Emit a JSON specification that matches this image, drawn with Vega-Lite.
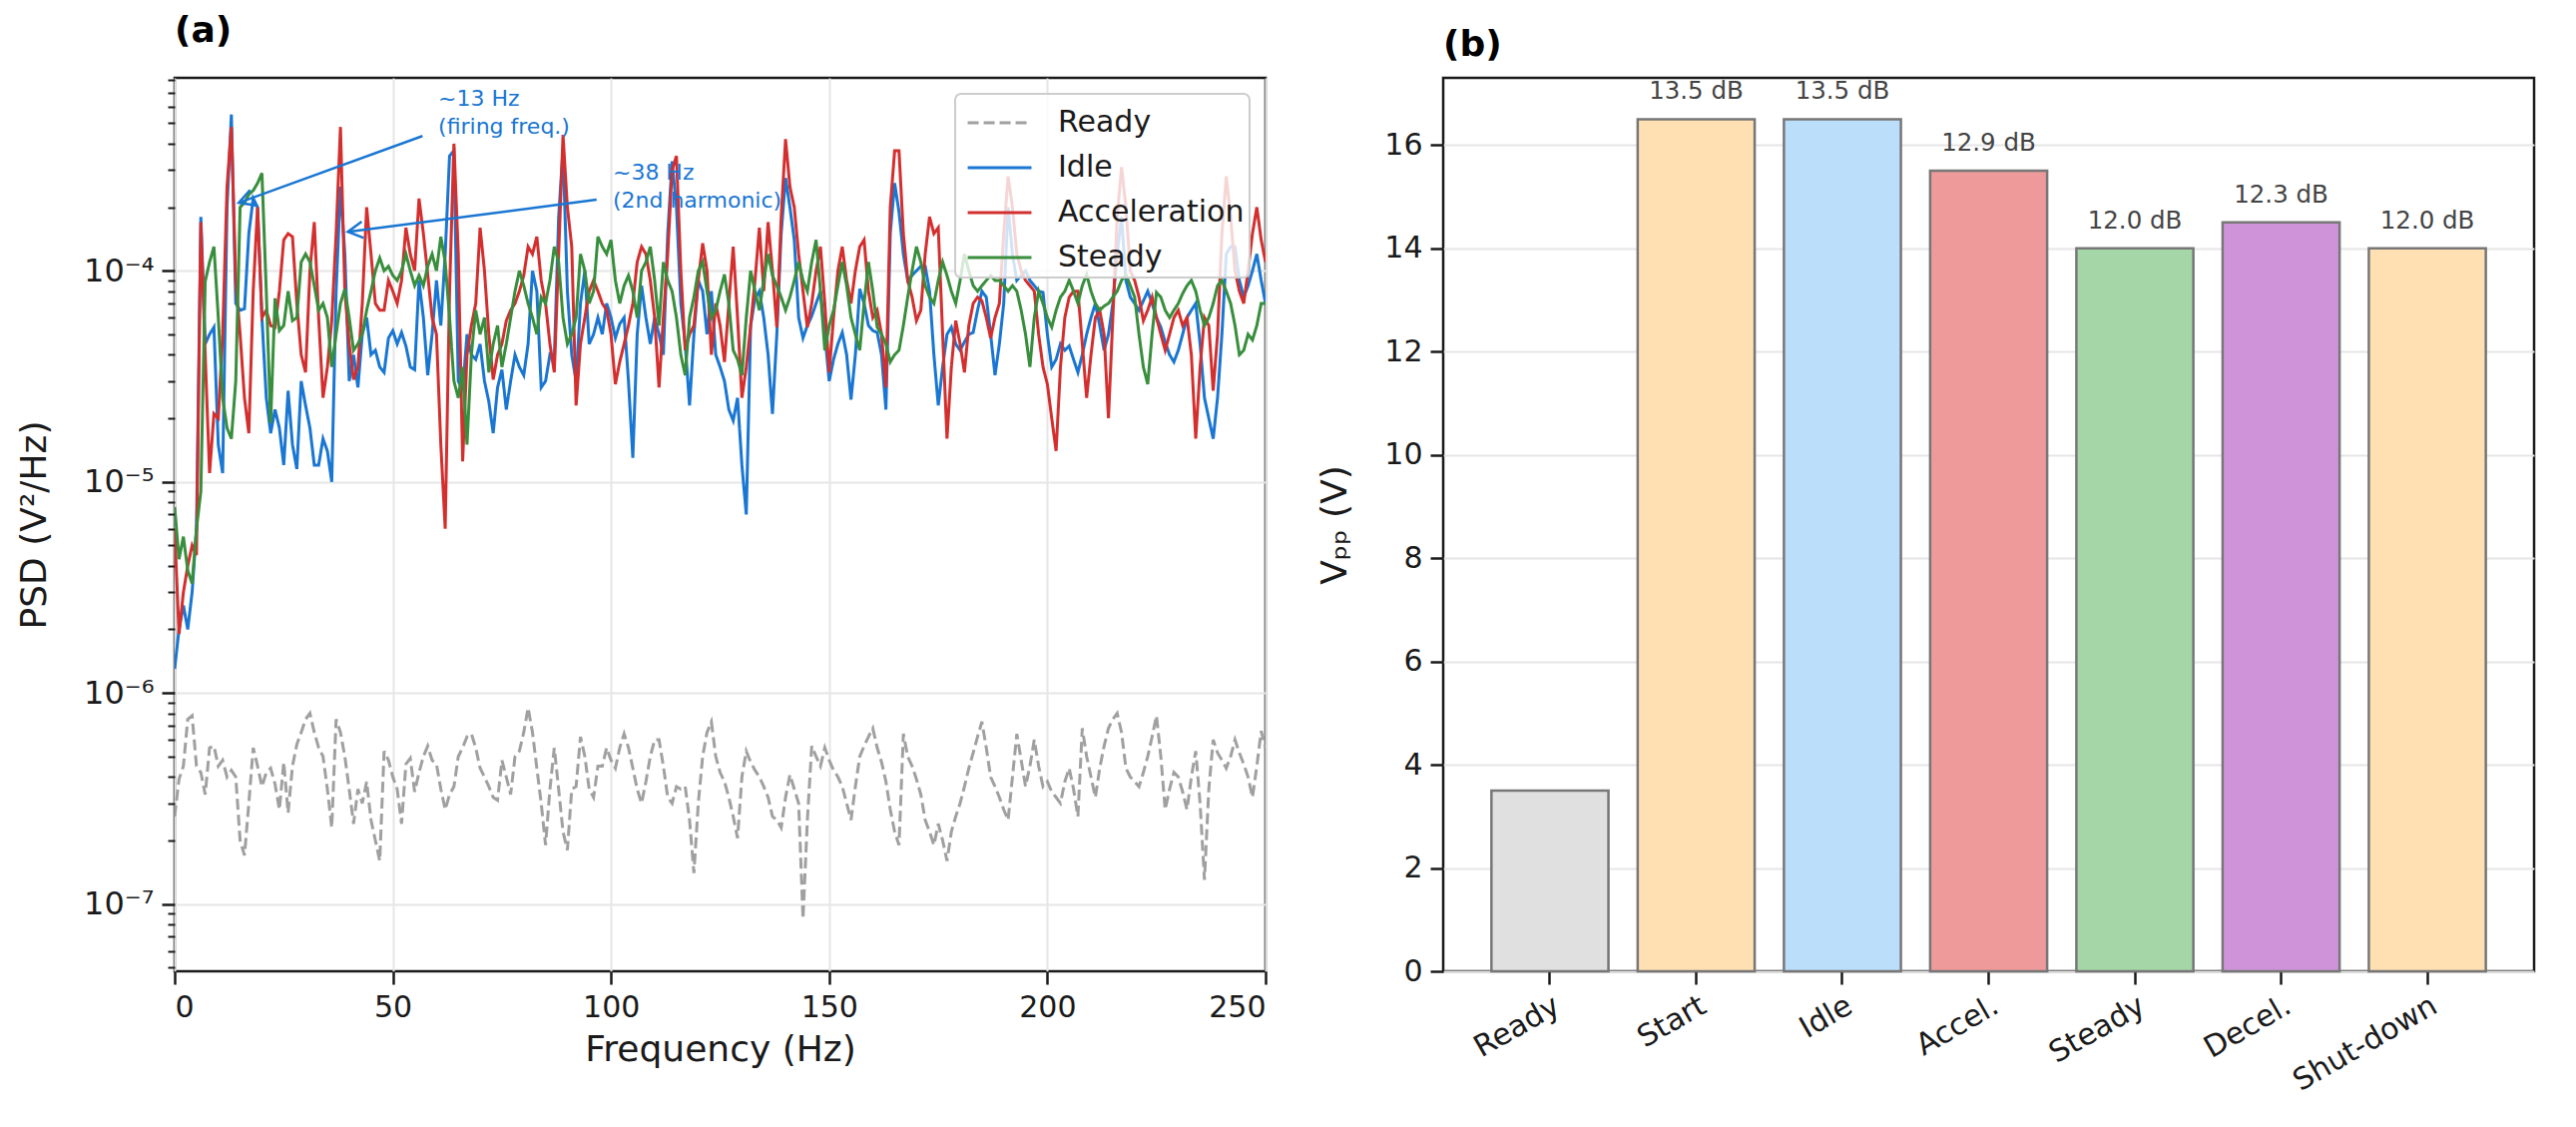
{
"$schema": "https://vega.github.io/schema/vega-lite/v6.json",
"padding": {"left": 15, "top": 12, "right": 5, "bottom": 5},
"spacing": 47,
"resolve": {"scale": {"color": "independent", "strokeDash": "independent"}, "legend": {"color": "independent", "strokeDash": "independent"}},
"config": {
  "font": "DejaVu Sans",
  "view": {"stroke": "#1a1a1a", "strokeWidth": 2.5},
  "axis": {"labelFont": "DejaVu Sans", "titleFont": "DejaVu Sans", "labelFontSize": 30, "titleFontSize": 36, "titleFontWeight": "normal", "labelColor": "#1a1a1a", "titleColor": "#1a1a1a", "tickColor": "#1a1a1a", "tickWidth": 2.5, "tickSize": 13, "domain": false, "gridColor": "#e6e6e6", "gridWidth": 2, "labelPadding": 8, "labelOverlap": false, "labelBound": false},
  "title": {"font": "DejaVu Sans", "fontSize": 36, "fontWeight": "bold", "anchor": "start", "frame": "group", "color": "#000000", "offset": 14},
  "legend": {"orient": "top-right", "offset": 16, "padding": 5, "rowPadding": 6, "labelFont": "DejaVu Sans", "labelFontSize": 30, "labelLimit": 400, "labelColor": "#1a1a1a", "labelOffset": 50, "symbolType": "M-0.73,0H2.11", "symbolSize": 2025, "symbolStrokeWidth": 3, "fillColor": "rgba(255,255,255,0.8)", "strokeColor": "#cccccc", "strokeWidth": 2, "cornerRadius": 6}
},
"datasets": {
"psd": [
{"f":0,"Ready":2.6e-7,"Idle":0.13e-5,"Acceleration":0.6e-5,"Steady":0.76e-5},
{"f":1,"Ready":3.9e-7,"Idle":0.2e-5,"Acceleration":0.19e-5,"Steady":0.43e-5},
{"f":2,"Ready":4.5e-7,"Idle":0.26e-5,"Acceleration":0.3e-5,"Steady":0.55e-5},
{"f":3,"Ready":7.5e-7,"Idle":0.2e-5,"Acceleration":0.4e-5,"Steady":0.38e-5},
{"f":4,"Ready":7.8e-7,"Idle":0.3e-5,"Acceleration":0.5e-5,"Steady":0.33e-5},
{"f":5,"Ready":4.5e-7,"Idle":0.6e-5,"Acceleration":0.45e-5,"Steady":0.6e-5},
{"f":6,"Ready":4.2e-7,"Idle":18e-5,"Acceleration":17e-5,"Steady":0.9e-5},
{"f":7,"Ready":3.3e-7,"Idle":4.5e-5,"Acceleration":4e-5,"Steady":8.9e-5},
{"f":8,"Ready":5.5e-7,"Idle":5.0e-5,"Acceleration":1.1e-5,"Steady":11e-5},
{"f":9,"Ready":5.6e-7,"Idle":5.4e-5,"Acceleration":2.1e-5,"Steady":13e-5},
{"f":10,"Ready":4.5e-7,"Idle":1.5e-5,"Acceleration":2.0e-5,"Steady":6e-5},
{"f":11,"Ready":4.8e-7,"Idle":1.1e-5,"Acceleration":5e-5,"Steady":2.5e-5},
{"f":12,"Ready":4.0e-7,"Idle":20e-5,"Acceleration":25e-5,"Steady":1.8e-5},
{"f":13,"Ready":4.3e-7,"Idle":55e-5,"Acceleration":48e-5,"Steady":1.6e-5},
{"f":14,"Ready":4.0e-7,"Idle":7e-5,"Acceleration":9e-5,"Steady":3e-5},
{"f":15,"Ready":2.0e-7,"Idle":6.5e-5,"Acceleration":5e-5,"Steady":20e-5},
{"f":16,"Ready":1.7e-7,"Idle":6.6e-5,"Acceleration":2.5e-5,"Steady":21e-5},
{"f":17,"Ready":3.0e-7,"Idle":15e-5,"Acceleration":1.7e-5,"Steady":23e-5},
{"f":18,"Ready":5.5e-7,"Idle":22e-5,"Acceleration":8e-5,"Steady":24e-5},
{"f":19,"Ready":4.5e-7,"Idle":20e-5,"Acceleration":20e-5,"Steady":26e-5},
{"f":20,"Ready":3.6e-7,"Idle":6e-5,"Acceleration":6e-5,"Steady":29e-5},
{"f":21,"Ready":4.2e-7,"Idle":2.5e-5,"Acceleration":6.5e-5,"Steady":8e-5},
{"f":22,"Ready":4.4e-7,"Idle":1.7e-5,"Acceleration":5.5e-5,"Steady":1.9e-5},
{"f":23,"Ready":3.7e-7,"Idle":2.2e-5,"Acceleration":5.4e-5,"Steady":7.4e-5},
{"f":24,"Ready":2.8e-7,"Idle":1.8e-5,"Acceleration":8e-5,"Steady":5.2e-5},
{"f":25,"Ready":4.7e-7,"Idle":1.2e-5,"Acceleration":14e-5,"Steady":5.5e-5},
{"f":26,"Ready":2.7e-7,"Idle":2.7e-5,"Acceleration":15e-5,"Steady":8e-5},
{"f":27,"Ready":4.5e-7,"Idle":1.5e-5,"Acceleration":14.5e-5,"Steady":5.8e-5},
{"f":28,"Ready":5.7e-7,"Idle":1.15e-5,"Acceleration":7e-5,"Steady":6e-5},
{"f":29,"Ready":6.5e-7,"Idle":3e-5,"Acceleration":4e-5,"Steady":11e-5},
{"f":30,"Ready":7.5e-7,"Idle":2.3e-5,"Acceleration":3.3e-5,"Steady":12e-5},
{"f":31,"Ready":8.0e-7,"Idle":1.8e-5,"Acceleration":10e-5,"Steady":11e-5},
{"f":32,"Ready":6.5e-7,"Idle":1.2e-5,"Acceleration":17e-5,"Steady":8.5e-5},
{"f":33,"Ready":5.5e-7,"Idle":1.2e-5,"Acceleration":6e-5,"Steady":6.5e-5},
{"f":34,"Ready":5.0e-7,"Idle":1.6e-5,"Acceleration":2.5e-5,"Steady":7e-5},
{"f":35,"Ready":3.5e-7,"Idle":1.4e-5,"Acceleration":3.5e-5,"Steady":6e-5},
{"f":36,"Ready":2.3e-7,"Idle":1.0e-5,"Acceleration":5.8e-5,"Steady":3.5e-5},
{"f":37,"Ready":7.5e-7,"Idle":8e-5,"Acceleration":15e-5,"Steady":5e-5},
{"f":38,"Ready":6.5e-7,"Idle":25e-5,"Acceleration":48e-5,"Steady":7e-5},
{"f":39,"Ready":5.0e-7,"Idle":12e-5,"Acceleration":8e-5,"Steady":8.2e-5},
{"f":40,"Ready":3.5e-7,"Idle":3e-5,"Acceleration":4.5e-5,"Steady":6e-5},
{"f":41,"Ready":2.4e-7,"Idle":4e-5,"Acceleration":3.05e-5,"Steady":4.2e-5},
{"f":42,"Ready":3.5e-7,"Idle":2.8e-5,"Acceleration":3.5e-5,"Steady":4.5e-5},
{"f":43,"Ready":3.0e-7,"Idle":5e-5,"Acceleration":7e-5,"Steady":5e-5},
{"f":44,"Ready":3.8e-7,"Idle":6e-5,"Acceleration":20e-5,"Steady":6.5e-5},
{"f":45,"Ready":2.5e-7,"Idle":4e-5,"Acceleration":12e-5,"Steady":8e-5},
{"f":46,"Ready":2.0e-7,"Idle":4.2e-5,"Acceleration":7e-5,"Steady":10e-5},
{"f":47,"Ready":1.6e-7,"Idle":3.5e-5,"Acceleration":6.5e-5,"Steady":11.5e-5},
{"f":48,"Ready":5.3e-7,"Idle":3.3e-5,"Acceleration":6.5e-5,"Steady":10e-5},
{"f":49,"Ready":4.8e-7,"Idle":4.8e-5,"Acceleration":9e-5,"Steady":10.5e-5},
{"f":50,"Ready":4.0e-7,"Idle":5.2e-5,"Acceleration":8e-5,"Steady":9.5e-5},
{"f":51,"Ready":3.5e-7,"Idle":4.5e-5,"Acceleration":7e-5,"Steady":9e-5},
{"f":52,"Ready":2.4e-7,"Idle":5.1e-5,"Acceleration":9e-5,"Steady":10e-5},
{"f":53,"Ready":4.6e-7,"Idle":4.4e-5,"Acceleration":16e-5,"Steady":12e-5},
{"f":54,"Ready":4.9e-7,"Idle":3.5e-5,"Acceleration":12e-5,"Steady":10e-5},
{"f":55,"Ready":3.4e-7,"Idle":3.4e-5,"Acceleration":10e-5,"Steady":8.5e-5},
{"f":56,"Ready":4.2e-7,"Idle":9e-5,"Acceleration":22e-5,"Steady":9.5e-5},
{"f":57,"Ready":5.0e-7,"Idle":6e-5,"Acceleration":15e-5,"Steady":8.5e-5},
{"f":58,"Ready":5.6e-7,"Idle":3.2e-5,"Acceleration":9.6e-5,"Steady":10.5e-5},
{"f":59,"Ready":4.8e-7,"Idle":5e-5,"Acceleration":6e-5,"Steady":12e-5},
{"f":60,"Ready":4.6e-7,"Idle":9e-5,"Acceleration":5e-5,"Steady":10e-5},
{"f":61,"Ready":3.5e-7,"Idle":5.5e-5,"Acceleration":1.5e-5,"Steady":14.5e-5},
{"f":62,"Ready":2.8e-7,"Idle":12e-5,"Acceleration":0.6e-5,"Steady":11e-5},
{"f":63,"Ready":3.3e-7,"Idle":35e-5,"Acceleration":8e-5,"Steady":6e-5},
{"f":64,"Ready":3.6e-7,"Idle":37e-5,"Acceleration":40e-5,"Steady":3e-5},
{"f":65,"Ready":5.0e-7,"Idle":3e-5,"Acceleration":12e-5,"Steady":2.5e-5},
{"f":66,"Ready":5.5e-7,"Idle":2.7e-5,"Acceleration":1.25e-5,"Steady":3.5e-5},
{"f":67,"Ready":6.2e-7,"Idle":5e-5,"Acceleration":4e-5,"Steady":1.5e-5},
{"f":68,"Ready":6.4e-7,"Idle":4e-5,"Acceleration":5.5e-5,"Steady":4e-5},
{"f":69,"Ready":5.5e-7,"Idle":3.8e-5,"Acceleration":7e-5,"Steady":6.5e-5},
{"f":70,"Ready":4.4e-7,"Idle":4.5e-5,"Acceleration":16e-5,"Steady":5e-5},
{"f":71,"Ready":4.0e-7,"Idle":3e-5,"Acceleration":10e-5,"Steady":6e-5},
{"f":72,"Ready":3.6e-7,"Idle":2.4e-5,"Acceleration":5e-5,"Steady":3.3e-5},
{"f":73,"Ready":3.2e-7,"Idle":1.7e-5,"Acceleration":3.05e-5,"Steady":4.5e-5},
{"f":74,"Ready":3.1e-7,"Idle":2.8e-5,"Acceleration":4e-5,"Steady":5.5e-5},
{"f":75,"Ready":4.8e-7,"Idle":3.4e-5,"Acceleration":4.5e-5,"Steady":3.5e-5},
{"f":76,"Ready":4.0e-7,"Idle":2.2e-5,"Acceleration":5.8e-5,"Steady":4.5e-5},
{"f":77,"Ready":3.3e-7,"Idle":3e-5,"Acceleration":6.5e-5,"Steady":6e-5},
{"f":78,"Ready":5.0e-7,"Idle":4e-5,"Acceleration":7e-5,"Steady":8e-5},
{"f":79,"Ready":5.3e-7,"Idle":3.5e-5,"Acceleration":8e-5,"Steady":10e-5},
{"f":80,"Ready":6.5e-7,"Idle":3.2e-5,"Acceleration":9.5e-5,"Steady":8.5e-5},
{"f":81,"Ready":8.5e-7,"Idle":4.5e-5,"Acceleration":13e-5,"Steady":7e-5},
{"f":82,"Ready":6.5e-7,"Idle":10e-5,"Acceleration":12e-5,"Steady":6e-5},
{"f":83,"Ready":4.4e-7,"Idle":8e-5,"Acceleration":14.5e-5,"Steady":5e-5},
{"f":84,"Ready":3.0e-7,"Idle":2.8e-5,"Acceleration":9e-5,"Steady":7.5e-5},
{"f":85,"Ready":1.9e-7,"Idle":3e-5,"Acceleration":7e-5,"Steady":7e-5},
{"f":86,"Ready":3.5e-7,"Idle":4e-5,"Acceleration":4.5e-5,"Steady":9e-5},
{"f":87,"Ready":5.5e-7,"Idle":3.8e-5,"Acceleration":3.3e-5,"Steady":13e-5},
{"f":88,"Ready":3.5e-7,"Idle":18e-5,"Acceleration":12e-5,"Steady":11e-5},
{"f":89,"Ready":2.2e-7,"Idle":38e-5,"Acceleration":44e-5,"Steady":6e-5},
{"f":90,"Ready":1.8e-7,"Idle":8e-5,"Acceleration":20e-5,"Steady":4.5e-5},
{"f":91,"Ready":3.5e-7,"Idle":4e-5,"Acceleration":13e-5,"Steady":5e-5},
{"f":92,"Ready":3.6e-7,"Idle":3e-5,"Acceleration":2.3e-5,"Steady":6e-5},
{"f":93,"Ready":6.2e-7,"Idle":7e-5,"Acceleration":4.5e-5,"Steady":12e-5},
{"f":94,"Ready":5.0e-7,"Idle":10e-5,"Acceleration":6e-5,"Steady":10e-5},
{"f":95,"Ready":3.5e-7,"Idle":4.5e-5,"Acceleration":8e-5,"Steady":7e-5},
{"f":96,"Ready":3.2e-7,"Idle":5e-5,"Acceleration":9e-5,"Steady":8e-5},
{"f":97,"Ready":4.5e-7,"Idle":6e-5,"Acceleration":8e-5,"Steady":14.5e-5},
{"f":98,"Ready":4.5e-7,"Idle":5e-5,"Acceleration":7e-5,"Steady":13e-5},
{"f":99,"Ready":5.5e-7,"Idle":7e-5,"Acceleration":6.5e-5,"Steady":12e-5},
{"f":100,"Ready":4.8e-7,"Idle":6e-5,"Acceleration":5e-5,"Steady":14e-5},
{"f":101,"Ready":4.4e-7,"Idle":4.8e-5,"Acceleration":2.9e-5,"Steady":9e-5},
{"f":102,"Ready":5.5e-7,"Idle":5.6e-5,"Acceleration":3.7e-5,"Steady":7e-5},
{"f":103,"Ready":6.4e-7,"Idle":6e-5,"Acceleration":4.5e-5,"Steady":8.5e-5},
{"f":104,"Ready":5.5e-7,"Idle":3e-5,"Acceleration":5.5e-5,"Steady":9.5e-5},
{"f":105,"Ready":4.4e-7,"Idle":1.3e-5,"Acceleration":7e-5,"Steady":8e-5},
{"f":106,"Ready":3.5e-7,"Idle":5e-5,"Acceleration":11e-5,"Steady":6e-5},
{"f":107,"Ready":3.0e-7,"Idle":8.5e-5,"Acceleration":13e-5,"Steady":10e-5},
{"f":108,"Ready":3.8e-7,"Idle":6e-5,"Acceleration":12e-5,"Steady":11e-5},
{"f":109,"Ready":5.0e-7,"Idle":4.5e-5,"Acceleration":9e-5,"Steady":13e-5},
{"f":110,"Ready":6.0e-7,"Idle":6e-5,"Acceleration":6e-5,"Steady":9e-5},
{"f":111,"Ready":6.0e-7,"Idle":5e-5,"Acceleration":2.8e-5,"Steady":5.5e-5},
{"f":112,"Ready":4.5e-7,"Idle":4e-5,"Acceleration":6e-5,"Steady":11e-5},
{"f":113,"Ready":3.2e-7,"Idle":15e-5,"Acceleration":12e-5,"Steady":9e-5},
{"f":114,"Ready":3.0e-7,"Idle":33e-5,"Acceleration":30e-5,"Steady":8e-5},
{"f":115,"Ready":3.6e-7,"Idle":20e-5,"Acceleration":35e-5,"Steady":6e-5},
{"f":116,"Ready":3.5e-7,"Idle":7e-5,"Acceleration":10e-5,"Steady":4e-5},
{"f":117,"Ready":3.6e-7,"Idle":4.5e-5,"Acceleration":4.2e-5,"Steady":3.2e-5},
{"f":118,"Ready":2.5e-7,"Idle":2.3e-5,"Acceleration":5e-5,"Steady":6e-5},
{"f":119,"Ready":1.4e-7,"Idle":5e-5,"Acceleration":5.5e-5,"Steady":7.5e-5},
{"f":120,"Ready":3.0e-7,"Idle":9e-5,"Acceleration":9e-5,"Steady":10e-5},
{"f":121,"Ready":5.0e-7,"Idle":8e-5,"Acceleration":13.5e-5,"Steady":11e-5},
{"f":122,"Ready":6.5e-7,"Idle":5e-5,"Acceleration":10e-5,"Steady":8e-5},
{"f":123,"Ready":7.3e-7,"Idle":8e-5,"Acceleration":4e-5,"Steady":6e-5},
{"f":124,"Ready":5.0e-7,"Idle":4e-5,"Acceleration":7e-5,"Steady":6.5e-5},
{"f":125,"Ready":4.2e-7,"Idle":3.5e-5,"Acceleration":5.5e-5,"Steady":8e-5},
{"f":126,"Ready":3.8e-7,"Idle":3.0e-5,"Acceleration":3.7e-5,"Steady":9.6e-5},
{"f":127,"Ready":3.2e-7,"Idle":2.2e-5,"Acceleration":7e-5,"Steady":7e-5},
{"f":128,"Ready":2.6e-7,"Idle":1.95e-5,"Acceleration":13e-5,"Steady":4.2e-5},
{"f":129,"Ready":2.05e-7,"Idle":2.5e-5,"Acceleration":6e-5,"Steady":3.8e-5},
{"f":130,"Ready":4.0e-7,"Idle":1.2e-5,"Acceleration":2.5e-5,"Steady":3.2e-5},
{"f":131,"Ready":5.3e-7,"Idle":0.7e-5,"Acceleration":3.5e-5,"Steady":6e-5},
{"f":132,"Ready":4.7e-7,"Idle":5.5e-5,"Acceleration":5.5e-5,"Steady":10e-5},
{"f":133,"Ready":4.3e-7,"Idle":7.4e-5,"Acceleration":9e-5,"Steady":8e-5},
{"f":134,"Ready":4.0e-7,"Idle":8e-5,"Acceleration":16e-5,"Steady":6.5e-5},
{"f":135,"Ready":3.6e-7,"Idle":6e-5,"Acceleration":8e-5,"Steady":9e-5},
{"f":136,"Ready":3.2e-7,"Idle":4e-5,"Acceleration":17e-5,"Steady":12e-5},
{"f":137,"Ready":2.6e-7,"Idle":2.1e-5,"Acceleration":10e-5,"Steady":9.5e-5},
{"f":138,"Ready":2.5e-7,"Idle":5e-5,"Acceleration":5.4e-5,"Steady":8.5e-5},
{"f":139,"Ready":2.3e-7,"Idle":15e-5,"Acceleration":18e-5,"Steady":7.5e-5},
{"f":140,"Ready":3.2e-7,"Idle":27.5e-5,"Acceleration":42e-5,"Steady":6.5e-5},
{"f":141,"Ready":4.1e-7,"Idle":20e-5,"Acceleration":25e-5,"Steady":7.5e-5},
{"f":142,"Ready":3.5e-7,"Idle":14e-5,"Acceleration":20e-5,"Steady":9e-5},
{"f":143,"Ready":3.0e-7,"Idle":6e-5,"Acceleration":12e-5,"Steady":11e-5},
{"f":144,"Ready":0.85e-7,"Idle":4.8e-5,"Acceleration":8e-5,"Steady":9e-5},
{"f":145,"Ready":2.5e-7,"Idle":5.5e-5,"Acceleration":5.4e-5,"Steady":8e-5},
{"f":146,"Ready":5.6e-7,"Idle":6.1e-5,"Acceleration":7e-5,"Steady":11e-5},
{"f":147,"Ready":5.0e-7,"Idle":7e-5,"Acceleration":10e-5,"Steady":14e-5},
{"f":148,"Ready":4.5e-7,"Idle":8e-5,"Acceleration":13e-5,"Steady":8e-5},
{"f":149,"Ready":5.5e-7,"Idle":5e-5,"Acceleration":7e-5,"Steady":4.2e-5},
{"f":150,"Ready":4.8e-7,"Idle":3.0e-5,"Acceleration":3.3e-5,"Steady":5.5e-5},
{"f":151,"Ready":4.3e-7,"Idle":3.8e-5,"Acceleration":6e-5,"Steady":6.5e-5},
{"f":152,"Ready":4.0e-7,"Idle":4.5e-5,"Acceleration":10e-5,"Steady":8.5e-5},
{"f":153,"Ready":3.6e-7,"Idle":5.1e-5,"Acceleration":13e-5,"Steady":11e-5},
{"f":154,"Ready":3.0e-7,"Idle":4e-5,"Acceleration":9e-5,"Steady":8.5e-5},
{"f":155,"Ready":2.5e-7,"Idle":2.45e-5,"Acceleration":7e-5,"Steady":6e-5},
{"f":156,"Ready":3.6e-7,"Idle":4e-5,"Acceleration":10e-5,"Steady":5e-5},
{"f":157,"Ready":5.0e-7,"Idle":8.2e-5,"Acceleration":13e-5,"Steady":4.2e-5},
{"f":158,"Ready":5.6e-7,"Idle":7e-5,"Acceleration":14e-5,"Steady":7e-5},
{"f":159,"Ready":6.2e-7,"Idle":5.5e-5,"Acceleration":8e-5,"Steady":11e-5},
{"f":160,"Ready":6.8e-7,"Idle":5.2e-5,"Acceleration":6e-5,"Steady":8e-5},
{"f":161,"Ready":5.5e-7,"Idle":5.1e-5,"Acceleration":6.5e-5,"Steady":5.4e-5},
{"f":162,"Ready":4.7e-7,"Idle":4e-5,"Acceleration":5e-5,"Steady":5e-5},
{"f":163,"Ready":3.8e-7,"Idle":2.2e-5,"Acceleration":2.8e-5,"Steady":4.5e-5},
{"f":164,"Ready":2.8e-7,"Idle":15e-5,"Acceleration":20e-5,"Steady":3.7e-5},
{"f":165,"Ready":2.2e-7,"Idle":26e-5,"Acceleration":37e-5,"Steady":4e-5},
{"f":166,"Ready":1.9e-7,"Idle":19e-5,"Acceleration":37e-5,"Steady":4.2e-5},
{"f":167,"Ready":6.4e-7,"Idle":12e-5,"Acceleration":15e-5,"Steady":5.5e-5},
{"f":168,"Ready":5.0e-7,"Idle":9e-5,"Acceleration":9e-5,"Steady":7.5e-5},
{"f":169,"Ready":4.5e-7,"Idle":9.5e-5,"Acceleration":7.5e-5,"Steady":10e-5},
{"f":170,"Ready":3.9e-7,"Idle":10e-5,"Acceleration":5.8e-5,"Steady":13e-5},
{"f":171,"Ready":3.3e-7,"Idle":10.5e-5,"Acceleration":6.5e-5,"Steady":11e-5},
{"f":172,"Ready":2.5e-7,"Idle":10.5e-5,"Acceleration":12e-5,"Steady":8.5e-5},
{"f":173,"Ready":2.2e-7,"Idle":8e-5,"Acceleration":18e-5,"Steady":7.5e-5},
{"f":174,"Ready":1.9e-7,"Idle":4e-5,"Acceleration":15e-5,"Steady":7e-5},
{"f":175,"Ready":2.4e-7,"Idle":2.3e-5,"Acceleration":16e-5,"Steady":9e-5},
{"f":176,"Ready":2.0e-7,"Idle":3.5e-5,"Acceleration":5e-5,"Steady":11e-5},
{"f":177,"Ready":1.6e-7,"Idle":5e-5,"Acceleration":1.6e-5,"Steady":9.5e-5},
{"f":178,"Ready":2.2e-7,"Idle":5.4e-5,"Acceleration":3.5e-5,"Steady":8e-5},
{"f":179,"Ready":2.6e-7,"Idle":4.5e-5,"Acceleration":5.8e-5,"Steady":7e-5},
{"f":180,"Ready":3.0e-7,"Idle":4.2e-5,"Acceleration":4.5e-5,"Steady":9e-5},
{"f":181,"Ready":3.6e-7,"Idle":4.6e-5,"Acceleration":3.3e-5,"Steady":12e-5},
{"f":182,"Ready":4.4e-7,"Idle":5e-5,"Acceleration":5.5e-5,"Steady":10e-5},
{"f":183,"Ready":5.2e-7,"Idle":5.1e-5,"Acceleration":7e-5,"Steady":8.5e-5},
{"f":184,"Ready":6.2e-7,"Idle":6.5e-5,"Acceleration":7.5e-5,"Steady":8e-5},
{"f":185,"Ready":7.3e-7,"Idle":8e-5,"Acceleration":7.2e-5,"Steady":8.5e-5},
{"f":186,"Ready":5.5e-7,"Idle":7.5e-5,"Acceleration":6e-5,"Steady":9e-5},
{"f":187,"Ready":4.0e-7,"Idle":5e-5,"Acceleration":4.8e-5,"Steady":9.5e-5},
{"f":188,"Ready":3.6e-7,"Idle":3.2e-5,"Acceleration":6e-5,"Steady":9e-5},
{"f":189,"Ready":3.2e-7,"Idle":4.5e-5,"Acceleration":7e-5,"Steady":9e-5},
{"f":190,"Ready":2.8e-7,"Idle":7e-5,"Acceleration":15e-5,"Steady":8.5e-5},
{"f":191,"Ready":2.5e-7,"Idle":20e-5,"Acceleration":28e-5,"Steady":8e-5},
{"f":192,"Ready":4.0e-7,"Idle":12e-5,"Acceleration":20e-5,"Steady":8.5e-5},
{"f":193,"Ready":6.4e-7,"Idle":9e-5,"Acceleration":12e-5,"Steady":8e-5},
{"f":194,"Ready":4.8e-7,"Idle":9.5e-5,"Acceleration":10e-5,"Steady":6.5e-5},
{"f":195,"Ready":3.6e-7,"Idle":10e-5,"Acceleration":9e-5,"Steady":5e-5},
{"f":196,"Ready":4.5e-7,"Idle":9e-5,"Acceleration":8.5e-5,"Steady":3.5e-5},
{"f":197,"Ready":6.0e-7,"Idle":8.5e-5,"Acceleration":8e-5,"Steady":6e-5},
{"f":198,"Ready":4.5e-7,"Idle":8e-5,"Acceleration":5e-5,"Steady":8e-5},
{"f":199,"Ready":3.6e-7,"Idle":7.9e-5,"Acceleration":3.5e-5,"Steady":7e-5},
{"f":200,"Ready":3.8e-7,"Idle":5e-5,"Acceleration":2.9e-5,"Steady":6e-5},
{"f":201,"Ready":3.4e-7,"Idle":3.5e-5,"Acceleration":2e-5,"Steady":5.4e-5},
{"f":202,"Ready":3.2e-7,"Idle":3.8e-5,"Acceleration":1.4e-5,"Steady":6.5e-5},
{"f":203,"Ready":3.0e-7,"Idle":4.5e-5,"Acceleration":3.5e-5,"Steady":7.5e-5},
{"f":204,"Ready":3.8e-7,"Idle":4.2e-5,"Acceleration":6e-5,"Steady":8e-5},
{"f":205,"Ready":4.4e-7,"Idle":4.4e-5,"Acceleration":7.5e-5,"Steady":9e-5},
{"f":206,"Ready":3.5e-7,"Idle":3.8e-5,"Acceleration":8e-5,"Steady":8e-5},
{"f":207,"Ready":2.6e-7,"Idle":3.3e-5,"Acceleration":8e-5,"Steady":7e-5},
{"f":208,"Ready":6.8e-7,"Idle":4e-5,"Acceleration":4.5e-5,"Steady":8.5e-5},
{"f":209,"Ready":5.0e-7,"Idle":5e-5,"Acceleration":2.5e-5,"Steady":9.6e-5},
{"f":210,"Ready":4.0e-7,"Idle":6e-5,"Acceleration":4e-5,"Steady":8e-5},
{"f":211,"Ready":3.2e-7,"Idle":7e-5,"Acceleration":6e-5,"Steady":7e-5},
{"f":212,"Ready":4.4e-7,"Idle":5.5e-5,"Acceleration":6.5e-5,"Steady":6.5e-5},
{"f":213,"Ready":5.6e-7,"Idle":4.2e-5,"Acceleration":5e-5,"Steady":6.8e-5},
{"f":214,"Ready":6.8e-7,"Idle":5e-5,"Acceleration":2.0e-5,"Steady":7e-5},
{"f":215,"Ready":7.5e-7,"Idle":7e-5,"Acceleration":6e-5,"Steady":7.5e-5},
{"f":216,"Ready":8.0e-7,"Idle":12e-5,"Acceleration":18e-5,"Steady":8e-5},
{"f":217,"Ready":6.5e-7,"Idle":18e-5,"Acceleration":31e-5,"Steady":9e-5},
{"f":218,"Ready":4.4e-7,"Idle":9e-5,"Acceleration":20e-5,"Steady":9.6e-5},
{"f":219,"Ready":4.0e-7,"Idle":7.5e-5,"Acceleration":10e-5,"Steady":8.5e-5},
{"f":220,"Ready":3.8e-7,"Idle":7e-5,"Acceleration":9e-5,"Steady":7.5e-5},
{"f":221,"Ready":3.6e-7,"Idle":6.5e-5,"Acceleration":7.5e-5,"Steady":5e-5},
{"f":222,"Ready":4.2e-7,"Idle":7.2e-5,"Acceleration":5.8e-5,"Steady":3.5e-5},
{"f":223,"Ready":5.0e-7,"Idle":8e-5,"Acceleration":6.5e-5,"Steady":2.9e-5},
{"f":224,"Ready":6.2e-7,"Idle":7e-5,"Acceleration":7.5e-5,"Steady":5e-5},
{"f":225,"Ready":7.8e-7,"Idle":6e-5,"Acceleration":6e-5,"Steady":7.9e-5},
{"f":226,"Ready":5.0e-7,"Idle":5.4e-5,"Acceleration":5e-5,"Steady":7.5e-5},
{"f":227,"Ready":2.8e-7,"Idle":4.6e-5,"Acceleration":4.2e-5,"Steady":6.5e-5},
{"f":228,"Ready":3.5e-7,"Idle":4e-5,"Acceleration":5e-5,"Steady":6e-5},
{"f":229,"Ready":4.2e-7,"Idle":3.7e-5,"Acceleration":6e-5,"Steady":6.5e-5},
{"f":230,"Ready":4.0e-7,"Idle":4.2e-5,"Acceleration":6.5e-5,"Steady":7e-5},
{"f":231,"Ready":3.4e-7,"Idle":5e-5,"Acceleration":5.5e-5,"Steady":7.8e-5},
{"f":232,"Ready":2.8e-7,"Idle":6e-5,"Acceleration":6e-5,"Steady":8.5e-5},
{"f":233,"Ready":4.0e-7,"Idle":6.5e-5,"Acceleration":4e-5,"Steady":9e-5},
{"f":234,"Ready":5.3e-7,"Idle":7e-5,"Acceleration":1.6e-5,"Steady":8e-5},
{"f":235,"Ready":3.0e-7,"Idle":4.5e-5,"Acceleration":3.5e-5,"Steady":6.5e-5},
{"f":236,"Ready":1.3e-7,"Idle":2.5e-5,"Acceleration":6e-5,"Steady":5.5e-5},
{"f":237,"Ready":3.5e-7,"Idle":2e-5,"Acceleration":5.5e-5,"Steady":6e-5},
{"f":238,"Ready":6.0e-7,"Idle":1.6e-5,"Acceleration":2.7e-5,"Steady":7e-5},
{"f":239,"Ready":5.2e-7,"Idle":2.5e-5,"Acceleration":5e-5,"Steady":8.5e-5},
{"f":240,"Ready":4.8e-7,"Idle":5e-5,"Acceleration":15e-5,"Steady":9e-5},
{"f":241,"Ready":4.4e-7,"Idle":12e-5,"Acceleration":28e-5,"Steady":8e-5},
{"f":242,"Ready":5.0e-7,"Idle":13e-5,"Acceleration":18e-5,"Steady":7e-5},
{"f":243,"Ready":6.0e-7,"Idle":13e-5,"Acceleration":10e-5,"Steady":5.5e-5},
{"f":244,"Ready":5.2e-7,"Idle":9e-5,"Acceleration":8e-5,"Steady":4e-5},
{"f":245,"Ready":4.6e-7,"Idle":7.5e-5,"Acceleration":7e-5,"Steady":4.2e-5},
{"f":246,"Ready":4.0e-7,"Idle":8.5e-5,"Acceleration":10e-5,"Steady":5e-5},
{"f":247,"Ready":3.2e-7,"Idle":10e-5,"Acceleration":15e-5,"Steady":4.7e-5},
{"f":248,"Ready":4.5e-7,"Idle":12e-5,"Acceleration":20e-5,"Steady":5.5e-5},
{"f":249,"Ready":6.6e-7,"Idle":9e-5,"Acceleration":14e-5,"Steady":7e-5},
{"f":250,"Ready":5.5e-7,"Idle":7e-5,"Acceleration":11e-5,"Steady":7e-5}
]
},
"hconcat": [
{
  "title": {"text": "(a)"},
  "width": 1093,
  "height": 895,
  "layer": [
    {
      "data": {"name": "psd"},
      "transform": [{"fold": ["Ready", "Idle", "Acceleration", "Steady"], "as": ["series", "psd"]}],
      "mark": {"type": "line", "strokeWidth": 3, "clip": true},
      "encoding": {
        "x": {"field": "f", "type": "quantitative", "scale": {"domain": [0, 250], "nice": false}, "axis": {"title": "Frequency (Hz)", "values": [0, 50, 100, 150, 200, 250], "grid": true, "titlePadding": 10}},
        "y": {"field": "psd", "type": "quantitative", "scale": {"type": "log", "domain": [4.8e-8, 8.2e-4], "nice": false},
          "axis": {"title": "PSD (V²/Hz)", "titlePadding": 30, "labelFontSize": 32,
            "values": [5e-8,6e-8,7e-8,8e-8,9e-8,1e-7,2e-7,3e-7,4e-7,5e-7,6e-7,7e-7,8e-7,9e-7,1e-6,2e-6,3e-6,4e-6,5e-6,6e-6,7e-6,8e-6,9e-6,1e-5,2e-5,3e-5,4e-5,5e-5,6e-5,7e-5,8e-5,9e-5,1e-4,2e-4,3e-4,4e-4,5e-4,6e-4,7e-4,8e-4],
            "labelExpr": "datum.value == 1e-4 ? '10⁻⁴' : datum.value == 1e-5 ? '10⁻⁵' : datum.value == 1e-6 ? '10⁻⁶' : datum.value == 1e-7 ? '10⁻⁷' : ''",
            "tickSize": {"condition": {"test": "indexof([1e-7,1e-6,1e-5,1e-4], datum.value) >= 0", "value": 13}, "value": 7},
            "tickWidth": {"condition": {"test": "indexof([1e-7,1e-6,1e-5,1e-4], datum.value) >= 0", "value": 2.5}, "value": 2},
            "gridOpacity": {"condition": {"test": "indexof([1e-7,1e-6,1e-5,1e-4], datum.value) >= 0", "value": 1}, "value": 0},
            "grid": true}},
        "color": {"field": "series", "type": "nominal", "scale": {"domain": ["Ready", "Idle", "Acceleration", "Steady"], "range": ["#a0a0a0", "#1976d2", "#d32f2f", "#388e3c"]}, "legend": {"title": null}},
        "strokeDash": {"field": "series", "type": "nominal", "scale": {"domain": ["Ready", "Idle", "Acceleration", "Steady"], "range": [[11, 5], [1, 0], [1, 0], [1, 0]]}, "legend": {"title": null}}
      }
    },
    {
      "data": {"values": [{"f": 56.8, "v": 4.35e-4, "f2": 14.7, "v2": 2.1e-4}, {"f": 96.7, "v": 2.17e-4, "f2": 39.7, "v2": 1.53e-4}]},
      "mark": {"type": "rule", "color": "#1976d2", "strokeWidth": 2.5},
      "encoding": {"x": {"field": "f", "type": "quantitative"}, "y": {"field": "v", "type": "quantitative"}, "x2": {"field": "f2"}, "y2": {"field": "v2"}}
    },
    {
      "data": {"values": [{"f": 14.7, "v": 2.1e-4}]},
      "mark": {"type": "point", "shape": "M-1,-0.55L0,0L-1,0.55", "angle": 160, "size": 900, "filled": false, "stroke": "#1976d2", "strokeWidth": 2.5, "opacity": 1},
      "encoding": {"x": {"field": "f", "type": "quantitative"}, "y": {"field": "v", "type": "quantitative"}}
    },
    {
      "data": {"values": [{"f": 39.7, "v": 1.53e-4}]},
      "mark": {"type": "point", "shape": "M-1,-0.55L0,0L-1,0.55", "angle": 172.7, "size": 900, "filled": false, "stroke": "#1976d2", "strokeWidth": 2.5, "opacity": 1},
      "encoding": {"x": {"field": "f", "type": "quantitative"}, "y": {"field": "v", "type": "quantitative"}}
    },
    {
      "data": {"values": [{"f": 60.4, "v": 6.55e-4, "t": "~13 Hz"}, {"f": 60.4, "v": 4.83e-4, "t": "(firing freq.)"}, {"f": 100.4, "v": 2.93e-4, "t": "~38 Hz"}, {"f": 100.4, "v": 2.16e-4, "t": "(2nd harmonic)"}]},
      "mark": {"type": "text", "align": "left", "baseline": "middle", "fontSize": 22, "color": "#1976d2", "font": "DejaVu Sans"},
      "encoding": {"x": {"field": "f", "type": "quantitative"}, "y": {"field": "v", "type": "quantitative"}, "text": {"field": "t"}}
    }
  ]
},
{
  "title": {"text": "(b)"},
  "width": 1093,
  "height": 895,
  "data": {"values": [
    {"state": "Ready", "vpp": 3.5, "snr": ""},
    {"state": "Start", "vpp": 16.5, "snr": "13.5 dB"},
    {"state": "Idle", "vpp": 16.5, "snr": "13.5 dB"},
    {"state": "Accel.", "vpp": 15.5, "snr": "12.9 dB"},
    {"state": "Steady", "vpp": 14.0, "snr": "12.0 dB"},
    {"state": "Decel.", "vpp": 14.5, "snr": "12.3 dB"},
    {"state": "Shut-down", "vpp": 14.0, "snr": "12.0 dB"}
  ]},
  "layer": [
    {
      "mark": {"type": "bar", "stroke": "#777777", "strokeWidth": 2.5},
      "encoding": {
        "x": {"field": "state", "type": "nominal", "sort": null, "scale": {"paddingInner": 0.2, "paddingOuter": 0.33}, "axis": {"title": null, "labelAngle": -30, "labelAlign": "right", "labelBaseline": "top", "tickSize": 13, "grid": false, "labelPadding": 6}},
        "y": {"field": "vpp", "type": "quantitative", "scale": {"domain": [0, 17.3], "nice": false}, "axis": {"title": "Vₚₚ (V)", "values": [0, 2, 4, 6, 8, 10, 12, 14, 16], "grid": true, "titlePadding": 30}},
        "color": {"field": "state", "type": "nominal", "scale": {"domain": ["Ready", "Start", "Idle", "Accel.", "Steady", "Decel.", "Shut-down"], "range": ["#e0e0e0", "#ffe0b2", "#bbdefb", "#ef9a9a", "#a5d6a7", "#ce93d8", "#ffe0b2"]}, "legend": null}
      }
    },
    {
      "mark": {"type": "text", "baseline": "alphabetic", "dy": -20, "fontSize": 24.5, "color": "#444444", "font": "DejaVu Sans"},
      "encoding": {
        "x": {"field": "state", "type": "nominal", "sort": null},
        "y": {"field": "vpp", "type": "quantitative"},
        "text": {"field": "snr"}
      }
    }
  ]
}
]
}
